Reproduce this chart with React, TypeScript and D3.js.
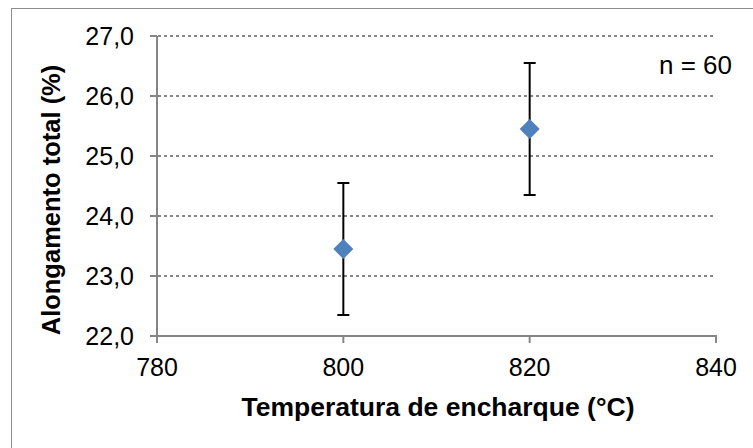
import React from 'react'
import * as d3 from 'd3'

// chart data
const temperatures = [800, 820]
const elongation = [23.45, 25.45]
const errorValues = [1.1, 1.1]
const xTicks = [780, 800, 820, 840]
const yTicks = [22, 23, 24, 25, 26, 27]
const sampleLabel = 'n = 60'
const xTitle = 'Temperatura de encharque (°C)'
const yTitle = 'Alongamento total (%)'

const width = 753
const height = 448
const margin = { top: 36, right: 37, bottom: 112, left: 157 }

const ptFormat = d3.formatLocale({ decimal: ',', thousands: '.', grouping: [3], currency: ['', ''] }).format('.1f')

const font = '"Liberation Sans", Arial, sans-serif'
const axisColor = '#868686'
const markerColor = '#4F81BD'

export default function App() {
  const x = d3.scaleLinear().domain([780, 840]).range([margin.left, width - margin.right])
  const y = d3.scaleLinear().domain([22, 27]).range([height - margin.bottom, margin.top])

  const [x0, x1] = x.range()
  const [y0, y1] = y.range()

  // diamond about 20px corner to corner
  const diamond = d3.symbol().type(d3.symbolDiamond2).size(255)()

  return (
    <svg width={width} height={height} style={{ position: 'absolute', left: 0, top: 0, background: '#fff' }}>
      {/* outer chart frame, runs off the right and bottom */}
      <rect x={11.5} y={8.5} width={width + 20} height={height + 20} fill="#fff" stroke="#8c8c8c" strokeWidth={1} />

      {/* gridlines */}
      {yTicks.filter(t => t !== 22).map(t => (
        <line key={'g' + t} x1={x0 + 1} x2={x1} y1={y(t)} y2={y(t)} stroke={axisColor} strokeWidth={2} strokeDasharray="3,3" />
      ))}

      {/* y axis */}
      <line x1={x0} x2={x0} y1={y1} y2={y0} stroke={axisColor} strokeWidth={2} />
      {yTicks.map(t => (
        <g key={'y' + t}>
          <line x1={x0 - 7} x2={x0} y1={y(t)} y2={y(t)} stroke={axisColor} strokeWidth={2} />
          <text x={x0 - 23} y={y(t)} dy="0.35em" textAnchor="end" fontFamily={font} fontSize={25} fill="#000">
            {ptFormat(t)}
          </text>
        </g>
      ))}

      {/* x axis */}
      <line x1={x0 - 7} x2={x1 + 1} y1={y0} y2={y0} stroke={axisColor} strokeWidth={2} />
      {xTicks.map(t => (
        <g key={'x' + t}>
          <line x1={x(t)} x2={x(t)} y1={y0} y2={y0 + 7} stroke={axisColor} strokeWidth={2} />
          <text x={x(t)} y={y0 + 40} textAnchor="middle" fontFamily={font} fontSize={25} fill="#000">
            {t}
          </text>
        </g>
      ))}

      {/* error bars */}
      {temperatures.map((t, i) => {
        const cx = x(t)
        const top = y(elongation[i] + errorValues[i])
        const bottom = y(elongation[i] - errorValues[i])
        return (
          <g key={'e' + t} stroke="#000" strokeWidth={2}>
            <line x1={cx} x2={cx} y1={top} y2={bottom} />
            <line x1={cx - 6} x2={cx + 6} y1={top} y2={top} />
            <line x1={cx - 6} x2={cx + 6} y1={bottom} y2={bottom} />
          </g>
        )
      })}

      {/* markers */}
      {temperatures.map((t, i) => (
        <path key={'m' + t} d={diamond} transform={`translate(${x(t)},${y(elongation[i])})`} fill={markerColor} />
      ))}

      <text x={732} y={74} textAnchor="end" fontFamily={font} fontSize={26} fill="#000">{sampleLabel}</text>

      {/* axis titles */}
      <text x={438} y={416} textAnchor="middle" fontFamily={font} fontSize={26.5} fontWeight="bold" fill="#000">
        {xTitle}
      </text>
      <text transform="translate(60,200) rotate(-90)" textAnchor="middle" fontFamily={font} fontSize={25.5} fontWeight="bold" fill="#000">
        {yTitle}
      </text>
    </svg>
  )
}
